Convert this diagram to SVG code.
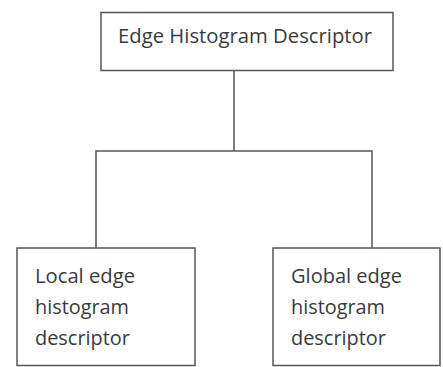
<svg xmlns="http://www.w3.org/2000/svg" width="443" height="367" viewBox="0 0 443 367">
<style>
rect{fill:#fff;stroke:#555;stroke-width:1.5}
.c{fill:none;stroke:#555;stroke-width:1.5}
text{font-family:"Open Sans","Liberation Sans",sans-serif;font-size:19.5px;fill:#3a3a3a}
</style>
<rect x="0" y="0" width="443" height="367" style="stroke:none"/>
<g id="connectors">
<path class="c" d="M234 70V151M96 248V151H372V248"/>
</g>
<g id="root">
<rect x="101" y="12.5" width="292" height="58"/>
<text x="118" y="43" textLength="254" lengthAdjust="spacingAndGlyphs">Edge Histogram  Descriptor</text>
</g>
<g id="local">
<rect x="17" y="248" width="178" height="117.5"/>
<text x="35" y="283" textLength="100" lengthAdjust="spacingAndGlyphs">Local edge</text>
<text x="35" y="314" textLength="94" lengthAdjust="spacingAndGlyphs">histogram</text>
<text x="35" y="345" textLength="95" lengthAdjust="spacingAndGlyphs">descriptor</text>
</g>
<g id="global">
<rect x="273" y="248" width="167" height="117.5"/>
<text x="291" y="283" textLength="111" lengthAdjust="spacingAndGlyphs">Global edge</text>
<text x="291" y="314" textLength="94" lengthAdjust="spacingAndGlyphs">histogram</text>
<text x="291" y="345" textLength="95" lengthAdjust="spacingAndGlyphs">descriptor</text>
</g>
</svg>
